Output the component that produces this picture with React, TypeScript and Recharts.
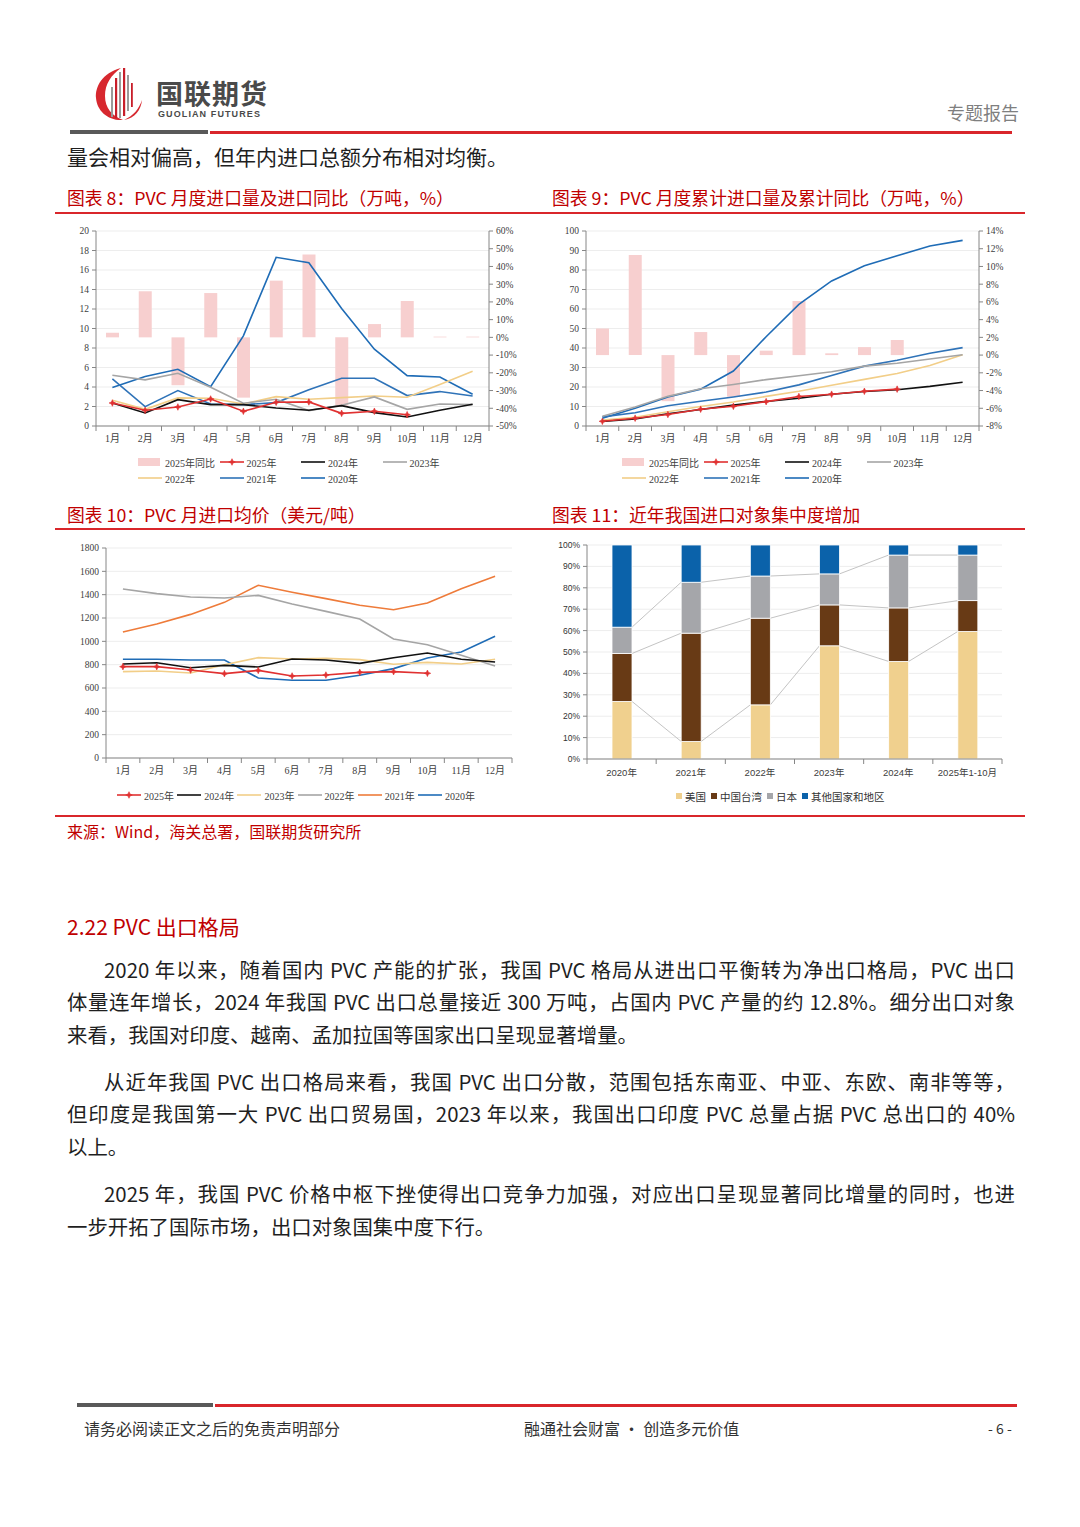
import React from "react";
import { ComposedChart, LineChart, BarChart, Bar, Line, XAxis, YAxis, CartesianGrid } from "recharts";

// ---- data ----
const MONTHS = ["1月", "2月", "3月", "4月", "5月", "6月", "7月", "8月", "9月", "10月", "11月", "12月"];

// 图表8: 月度进口量（万吨）及 2025 同比（%）
const IMP_YOY_2025 = [2.6, 26, -27, 25, -34, 32, 46.7, -38.6, 7.5, 20.5, 0.4, 0.4];
const IMP_2025 = [2.36, 1.61, 1.95, 2.77, 1.51, 2.43, 2.47, 1.3, 1.51, 1.16, null, null];
const IMP_2024 = [2.36, 1.34, 2.7, 2.19, 2.19, 1.85, 1.61, 2.09, 1.37, 0.92, 1.61, 2.23];
const IMP_2023 = [5.2, 4.73, 5.41, 3.97, 2.33, 2.74, 1.58, 2.12, 2.98, 1.71, 2.26, 2.19];
const IMP_2022 = [2.64, 1.71, 2.88, 2.84, 2.26, 3.01, 2.74, 2.91, 3.08, 2.95, 4.25, 5.62];
const IMP_2021 = [4.83, 1.99, 3.63, 2.26, 2.19, 2.4, 3.73, 4.9, 4.9, 3.12, 3.53, 3.08];
const IMP_2020 = [3.94, 5.07, 5.82, 4.04, 9.25, 17.3, 16.75, 12.05, 7.88, 5.17, 5.03, 3.25];

// 图表9: 累计进口量（万吨）及累计同比（%）
const CUM_YOY_2025 = [3.0, 11.3, -5.2, 2.6, -4.7, 0.5, 6.1, 0.2, 0.9, 1.7, null, null];
const CUM_2025 = [2.4, 4.0, 5.9, 8.6, 10.1, 12.5, 15.1, 16.3, 17.8, 18.9, null, null];
const CUM_2024 = [2.3, 3.6, 6.3, 8.5, 10.7, 12.6, 14.2, 16.3, 17.7, 18.6, 20.3, 22.4];
const CUM_2023 = [5.0, 9.7, 15.2, 19.1, 21.3, 23.8, 25.8, 27.8, 30.7, 32.2, 34.4, 36.5];
const CUM_2022 = [3.0, 4.5, 7.3, 10.0, 12.3, 15.2, 17.8, 20.9, 23.9, 26.9, 31.0, 36.5];
const CUM_2021 = [4.7, 6.8, 10.4, 12.7, 14.9, 17.4, 21.1, 25.9, 30.7, 33.7, 37.3, 40.2];
const CUM_2020 = [4.0, 9.1, 14.9, 18.9, 28.2, 45.8, 62.4, 74.4, 82.2, 87.3, 92.3, 95.2];

// 图表10: 月进口均价（美元/吨）
const PRICE_2025 = [783, 783, 754, 723, 751, 703, 711, 734, 740, 726, null, null];
const PRICE_2024 = [806, 817, 774, 794, 780, 849, 840, 811, 860, 900, 846, 823];
const PRICE_2023 = [740, 746, 729, 800, 860, 849, 854, 843, 803, 820, 806, 846];
const PRICE_2022 = [1449, 1409, 1380, 1371, 1394, 1320, 1257, 1191, 1020, 971, 880, 789];
const PRICE_2021 = [1080, 1149, 1231, 1334, 1480, 1420, 1366, 1309, 1271, 1329, 1451, 1557];
const PRICE_2020 = [846, 846, 840, 840, 686, 666, 666, 709, 766, 857, 909, 1043];

// 图表11: 进口来源占比（%）
const YEARS = ["2020年", "2021年", "2022年", "2023年", "2024年", "2025年1-10月"];
const SHARE_US = [26.9, 8.2, 25.3, 52.9, 45.6, 59.6];
const SHARE_TW = [22.4, 50.6, 40.5, 19.1, 25.0, 14.4];
const SHARE_JP = [12.3, 23.8, 19.7, 14.5, 24.7, 21.3];
const SHARE_OTHER = [38.4, 17.4, 14.5, 13.5, 4.7, 4.7];

const L_TICKS_8 = [0, 2, 4, 6, 8, 10, 12, 14, 16, 18, 20];
const R_TICKS_8 = [-50, -40, -30, -20, -10, 0, 10, 20, 30, 40, 50, 60];
const L_TICKS_9 = [0, 10, 20, 30, 40, 50, 60, 70, 80, 90, 100];
const R_TICKS_9 = [-8, -6, -4, -2, 0, 2, 4, 6, 8, 10, 12, 14];
const TICKS_10 = [0, 200, 400, 600, 800, 1000, 1200, 1400, 1600, 1800];
const TICKS_11 = [0, 10, 20, 30, 40, 50, 60, 70, 80, 90, 100];

// ---- styles ----
const SERIF = '"Liberation Serif", "Times New Roman", "Noto Sans CJK SC", serif';
const SANS = '"Liberation Sans", Arial, "Noto Sans CJK SC", sans-serif';
const CJK = '"Noto Sans CJK SC", sans-serif';
const AXIS = "#868686";
const GRID = "#EDEDED";
const TXT = "#404040";
const TITLE_RED = "#C00000";
const LINE_RED = "#D9262B";

const PINK = "#F7CFCF";
const RED = "#E03131";
const BLACK = "#111111";
const GRAY = "#A5A5A5";
const YELLOW = "#F2CE88";
const BLUE21 = "#2F73B8";
const BLUE20 = "#1F6CB6";
const ORANGE = "#EE7B3A";
const C_US = "#F0D08E";
const C_TW = "#683A15";
const C_JP = "#A5A6AA";
const C_OTHER = "#0B62AA";

const rows8 = MONTHS.map((m, i) => ({
  m, yoy: IMP_YOY_2025[i], y2025: IMP_2025[i], y2024: IMP_2024[i], y2023: IMP_2023[i],
  y2022: IMP_2022[i], y2021: IMP_2021[i], y2020: IMP_2020[i],
}));
const rows9 = MONTHS.map((m, i) => ({
  m, yoy: CUM_YOY_2025[i], y2025: CUM_2025[i], y2024: CUM_2024[i], y2023: CUM_2023[i],
  y2022: CUM_2022[i], y2021: CUM_2021[i], y2020: CUM_2020[i],
}));
const rows10 = MONTHS.map((m, i) => ({
  m, y2025: PRICE_2025[i], y2024: PRICE_2024[i], y2023: PRICE_2023[i],
  y2022: PRICE_2022[i], y2021: PRICE_2021[i], y2020: PRICE_2020[i],
}));
const rows11: any[] = YEARS.map((yr, i) => ({
  yr, us: SHARE_US[i], tw: SHARE_TW[i], jp: SHARE_JP[i], other: SHARE_OTHER[i],
}));

const SERIES_89 = [
  { key: "y2020", color: BLUE20 },
  { key: "y2021", color: BLUE21 },
  { key: "y2022", color: YELLOW },
  { key: "y2023", color: GRAY },
  { key: "y2024", color: BLACK },
  { key: "y2025", color: RED },
];
const SERIES_10 = [
  { key: "y2020", color: BLUE20 },
  { key: "y2021", color: ORANGE },
  { key: "y2022", color: GRAY },
  { key: "y2023", color: YELLOW },
  { key: "y2024", color: BLACK },
  { key: "y2025", color: RED },
];
const KEYS11 = ["us", "tw", "jp", "other"];
const COLORS11 = [C_US, C_TW, C_JP, C_OTHER];

const LEG_89 = [
  { name: "2025年同比", kind: "bar", color: PINK },
  { name: "2025年", kind: "marker", color: RED },
  { name: "2024年", kind: "line", color: BLACK },
  { name: "2023年", kind: "line", color: GRAY },
  { name: "2022年", kind: "line", color: YELLOW },
  { name: "2021年", kind: "line", color: BLUE21 },
  { name: "2020年", kind: "line", color: BLUE20 },
];
const LEG_10 = [
  { name: "2025年", kind: "marker", color: RED },
  { name: "2024年", kind: "line", color: BLACK },
  { name: "2023年", kind: "line", color: YELLOW },
  { name: "2022年", kind: "line", color: GRAY },
  { name: "2021年", kind: "line", color: ORANGE },
  { name: "2020年", kind: "line", color: BLUE20 },
];
const LEG_11 = ["美国", "中国台湾", "日本", "其他国家和地区"];

// band widths (plot width / categories)
const BW8 = 393 / 12;
const BW10 = 406 / 12;
const BW11 = 415 / 6;

function starPath(cx: number, cy: number, r = 3.3, s = 1) {
  return `M${cx},${cy - r}L${cx + s},${cy - s}L${cx + r},${cy}L${cx + s},${cy + s}L${cx},${cy + r}L${cx - s},${cy + s}L${cx - r},${cy}L${cx - s},${cy - s}Z`;
}

function StarDot(p: any) {
  if (p.cx == null || p.cy == null || p.value == null) return <g />;
  return <path d={starPath(p.cx, p.cy)} fill={RED} stroke={RED} strokeWidth={0.6} />;
}

function makeXTick(bw: number, n: number, font: string, size: number, dy: number) {
  return function XTick(p: any) {
    const i = typeof p.index === "number" ? p.index : 0;
    const { x, y } = p;
    return (
      <g>
        <line x1={x - bw / 2} y1={y} x2={x - bw / 2} y2={y + 5} stroke={AXIS} />
        {i === n - 1 ? <line x1={x + bw / 2} y1={y} x2={x + bw / 2} y2={y + 5} stroke={AXIS} /> : null}
        <text x={x} y={y + dy} textAnchor="middle" fontSize={size} fontFamily={font} fill={TXT}>
          {p.payload.value}
        </text>
      </g>
    );
  };
}

function YearChart({ data, lDomain, lTicks, rDomain, rTicks }: any) {
  return (
    <ComposedChart width={490} height={236} data={data} margin={{ top: 11, right: 6, bottom: 0, left: 0 }}>
      <CartesianGrid yAxisId="l" vertical={false} stroke={GRID} />
      <XAxis dataKey="m" interval={0} tickLine={false} tickSize={0} tickMargin={0} height={30}
        axisLine={{ stroke: AXIS }} tick={makeXTick(BW8, 12, SERIF, 10, 15.5)} />
      <YAxis yAxisId="l" domain={lDomain} ticks={lTicks} interval={0} width={41} tickSize={4} tickMargin={3}
        axisLine={{ stroke: AXIS }} tickLine={{ stroke: AXIS }} tick={{ fontSize: 9.5, fontFamily: SERIF, fill: TXT }} />
      <YAxis yAxisId="r" orientation="right" domain={rDomain} ticks={rTicks} interval={0} width={50} tickSize={4}
        tickMargin={3} axisLine={{ stroke: AXIS }} tickLine={{ stroke: AXIS }}
        tick={{ fontSize: 9.5, fontFamily: SERIF, fill: TXT }} tickFormatter={(v: number) => `${v}%`} />
      <Bar yAxisId="r" dataKey="yoy" fill={PINK} barSize={13} isAnimationActive={false} />
      {SERIES_89.map((s) => (
        <Line key={s.key} yAxisId="l" type="linear" dataKey={s.key} stroke={s.color} strokeWidth={1.6}
          dot={s.key === "y2025" ? (p: any) => <StarDot key={p.index} {...p} /> : false}
          activeDot={false} isAnimationActive={false} />
      ))}
    </ComposedChart>
  );
}

function PriceChart() {
  return (
    <LineChart width={490} height={253} data={rows10} margin={{ top: 13, right: 33, bottom: 0, left: 0 }}>
      <CartesianGrid vertical={false} stroke={GRID} />
      <XAxis dataKey="m" scale="band" interval={0} tickLine={false} tickSize={0} tickMargin={0} height={30}
        axisLine={{ stroke: AXIS }} tick={makeXTick(BW10, 12, SERIF, 10, 15.5)} />
      <YAxis domain={[0, 1800]} ticks={TICKS_10} interval={0} width={51} tickSize={4} tickMargin={3}
        axisLine={{ stroke: AXIS }} tickLine={{ stroke: AXIS }} tick={{ fontSize: 9.5, fontFamily: SERIF, fill: TXT }} />
      {SERIES_10.map((s) => (
        <Line key={s.key} type="linear" dataKey={s.key} stroke={s.color} strokeWidth={1.6}
          dot={s.key === "y2025" ? (p: any) => <StarDot key={p.index} {...p} /> : false}
          activeDot={false} isAnimationActive={false} />
      ))}
    </LineChart>
  );
}

function makeStackShape(k: number) {
  return function StackShape(p: any) {
    const { x, y, width, height, index, fill } = p;
    const row = rows11[index];
    const next = rows11[index + 1];
    let link = null;
    if (row && next && k < KEYS11.length - 1 && height > 0) {
      const keys = KEYS11.slice(0, k + 1);
      const cumThis = keys.reduce((a, key) => a + row[key], 0);
      const cumNext = keys.reduce((a, key) => a + next[key], 0);
      const ppu = height / row[KEYS11[k]];
      const ny = y + (cumThis - cumNext) * ppu;
      link = <line x1={x + width} y1={y} x2={x + BW11} y2={ny} stroke="#C4C4C4" strokeWidth={1} />;
    }
    return (
      <g>
        <rect x={x} y={y} width={width} height={height} fill={fill} stroke="#ffffff" strokeWidth={0.8} />
        {link}
      </g>
    );
  };
}

function ShareChart() {
  return (
    <BarChart width={490} height={254} data={rows11} margin={{ top: 10, right: 33, bottom: 0, left: 0 }}>
      <CartesianGrid vertical={false} stroke={GRID} />
      <XAxis dataKey="yr" interval={0} tickLine={false} tickSize={0} tickMargin={0} height={30}
        axisLine={{ stroke: AXIS }} tick={makeXTick(BW11, 6, SANS, 9.5, 16.5)} />
      <YAxis domain={[0, 100]} ticks={TICKS_11} interval={0} width={42} tickSize={4} tickMargin={3}
        axisLine={{ stroke: AXIS }} tickLine={{ stroke: AXIS }} tick={{ fontSize: 8.5, fontFamily: SANS, fill: "#333" }}
        tickFormatter={(v: number) => `${v}%`} />
      {KEYS11.map((key, k) => (
        <Bar key={key} dataKey={key} stackId="s" fill={COLORS11[k]} barSize={20} shape={makeStackShape(k)}
          isAnimationActive={false} />
      ))}
    </BarChart>
  );
}

function LegendSymbol({ kind, color }: any) {
  return (
    <svg width={24} height={10} style={{ flex: "none" }}>
      {kind === "bar" ? <rect x={0} y={1} width={22} height={8} fill={color} /> : null}
      {kind !== "bar" ? <line x1={0} y1={5} x2={24} y2={5} stroke={color} strokeWidth={1.6} /> : null}
      {kind === "marker" ? <path d={starPath(12, 5)} fill={color} stroke={color} strokeWidth={0.6} /> : null}
    </svg>
  );
}

function LineLegend({ items, left, top, col, cols }: any) {
  return (
    <div style={{ position: "absolute", left, top, width: col * cols, display: "flex", flexWrap: "wrap" }}>
      {items.map((it: any) => (
        <div key={it.name} style={{ width: col, height: 16, display: "flex", alignItems: "center" }}>
          <LegendSymbol kind={it.kind} color={it.color} />
          <span style={{ marginLeft: 3, fontSize: 10, fontFamily: SERIF, color: TXT, whiteSpace: "nowrap" }}>{it.name}</span>
        </div>
      ))}
    </div>
  );
}

function ShareLegend() {
  return (
    <div style={{ position: "absolute", left: 676, top: 788, height: 16, display: "flex", alignItems: "center" }}>
      {LEG_11.map((n, i) => (
        <div key={n} style={{ display: "flex", alignItems: "center", marginRight: 5 }}>
          <span style={{ width: 6, height: 6, background: COLORS11[i], display: "inline-block", marginRight: 3 }} />
          <span style={{ fontSize: 10.5, fontFamily: CJK, color: "#333", whiteSpace: "nowrap" }}>{n}</span>
        </div>
      ))}
    </div>
  );
}

function Txt({ x, y, size, color = "#222", font = CJK, weight = 400, ls = 0, children }: any) {
  return (
    <div style={{ position: "absolute", left: x, top: y - size, height: size * 2, lineHeight: `${size * 2}px`,
      fontSize: size, color, fontFamily: font, fontWeight: weight, letterSpacing: ls, whiteSpace: "nowrap" }}>
      {children}
    </div>
  );
}

function Rule({ x, y, w, h, color }: any) {
  return <div style={{ position: "absolute", left: x, top: y - h / 2, width: w, height: h, background: color }} />;
}

const PARAS = [
  { ys: [969, 1001, 1034], lines: [
    "2020 年以来，随着国内 PVC 产能的扩张，我国 PVC 格局从进出口平衡转为净出口格局，PVC 出口",
    "体量连年增长，2024 年我国 PVC 出口总量接近 300 万吨，占国内 PVC 产量的约 12.8%。细分出口对象",
    "来看，我国对印度、越南、孟加拉国等国家出口呈现显著增量。",
  ] },
  { ys: [1081, 1113, 1146], lines: [
    "从近年我国 PVC 出口格局来看，我国 PVC 出口分散，范围包括东南亚、中亚、东欧、南非等等，",
    "但印度是我国第一大 PVC 出口贸易国，2023 年以来，我国出口印度 PVC 总量占据 PVC 总出口的 40%",
    "以上。",
  ] },
  { ys: [1193, 1226], lines: [
    "2025 年，我国 PVC 价格中枢下挫使得出口竞争力加强，对应出口呈现显著同比增量的同时，也进",
    "一步开拓了国际市场，出口对象国集中度下行。",
  ] },
];

function Paragraph({ p }: any) {
  return (
    <>
      {p.lines.map((ln: string, i: number) => {
        const last = i === p.lines.length - 1;
        const left = i === 0 ? 104 : 67;
        return (
          <div key={i} style={{ position: "absolute", left, top: p.ys[i] - 16, width: 1015 - left, height: 32,
            lineHeight: "32px", fontSize: 20.4, fontFamily: CJK, color: "#1f1f1f",
            textAlign: last ? "left" : "justify", textAlignLast: last ? "left" : "justify" } as any}>
            {ln}
          </div>
        );
      })}
    </>
  );
}

function Logo() {
  return (
    <svg width={52} height={58} style={{ position: "absolute", left: 93, top: 65 }}>
      <path d="M28 3 C9 8 2 22 3 33 C4 46 15 56 30 55 C19 51 12 43 12 31 C12 19 18 10 28 3 Z" fill="#D7282F" />
      <path d="M31 55 C42 53 48 45 49 35 C46 44 40 51 31 55 Z" fill="#D7282F" />
      <rect x={18} y={22} width={2} height={30} fill="#9A9A9A" />
      <rect x={22} y={13} width={2.2} height={40} fill="#C81E2A" />
      <rect x={26} y={7} width={2} height={46} fill="#9A9A9A" />
      <rect x={30} y={3} width={2.2} height={48} fill="#C81E2A" />
      <rect x={34} y={10} width={2} height={36} fill="#9A9A9A" />
      <rect x={38} y={18} width={1.8} height={24} fill="#C81E2A" />
    </svg>
  );
}

export default function App() {
  return (
    <div style={{ position: "absolute", left: 0, top: 0, width: 1080, height: 1527, background: "#fff", overflow: "hidden" }}>
      <Logo />
      <Txt x={156} y={93} size={27} color="#4A4A4A" weight={700} ls={1}>国联期货</Txt>
      <Txt x={158} y={114} size={9} color="#4A4A4A" font={SANS} weight={700} ls={1.1}>GUOLIAN FUTURES</Txt>
      <Txt x={947} y={112} size={18} color="#7F7F7F">专题报告</Txt>
      <Rule x={70} y={132} w={138} h={4} color="#595959" />
      <Rule x={210} y={132} w={802} h={3} color={LINE_RED} />

      <Txt x={67} y={156} size={21} color="#1f1f1f">量会相对偏高，但年内进口总额分布相对均衡。</Txt>

      <Txt x={67} y={198} size={17.8} color={TITLE_RED}>图表 8：PVC 月度进口量及进口同比（万吨，%）</Txt>
      <Txt x={552} y={198} size={17.8} color={TITLE_RED}>图表 9：PVC 月度累计进口量及累计同比（万吨，%）</Txt>
      <Rule x={55} y={213} w={970} h={2} color={LINE_RED} />

      <div style={{ position: "absolute", left: 55, top: 220 }}>
        <YearChart data={rows8} lDomain={[0, 20]} lTicks={L_TICKS_8} rDomain={[-50, 60]} rTicks={R_TICKS_8} />
      </div>
      <LineLegend items={LEG_89} left={138} top={454} col={81.5} cols={4} />
      <div style={{ position: "absolute", left: 545, top: 220 }}>
        <YearChart data={rows9} lDomain={[0, 100]} lTicks={L_TICKS_9} rDomain={[-8, 14]} rTicks={R_TICKS_9} />
      </div>
      <LineLegend items={LEG_89} left={622} top={454} col={81.5} cols={4} />

      <Txt x={67} y={515} size={17.8} color={TITLE_RED}>图表 10：PVC 月进口均价（美元/吨）</Txt>
      <Txt x={552} y={515} size={17.8} color={TITLE_RED}>图表 11：近年我国进口对象集中度增加</Txt>
      <Rule x={55} y={529} w={970} h={2} color={LINE_RED} />

      <div style={{ position: "absolute", left: 55, top: 535 }}>
        <PriceChart />
      </div>
      <LineLegend items={LEG_10} left={117} top={787} col={60.2} cols={6} />
      <div style={{ position: "absolute", left: 545, top: 535 }}>
        <ShareChart />
      </div>
      <ShareLegend />

      <Rule x={55} y={816} w={970} h={2} color={LINE_RED} />
      <Txt x={67} y={831} size={16} color={TITLE_RED}>来源：Wind，海关总署，国联期货研究所</Txt>

      <Txt x={67} y={926} size={21} color={TITLE_RED}>2.22 PVC 出口格局</Txt>
      {PARAS.map((p, i) => <Paragraph key={i} p={p} />)}

      <Rule x={77} y={1405} w={136} h={4} color="#595959" />
      <Rule x={215} y={1405} w={802} h={3} color={LINE_RED} />
      <Txt x={84} y={1428} size={16} color="#333">请务必阅读正文之后的免责声明部分</Txt>
      <Txt x={524} y={1428} size={16} color="#333">融通社会财富 • 创造多元价值</Txt>
      <Txt x={988} y={1428} size={14} color="#333">- 6 -</Txt>
    </div>
  );
}
